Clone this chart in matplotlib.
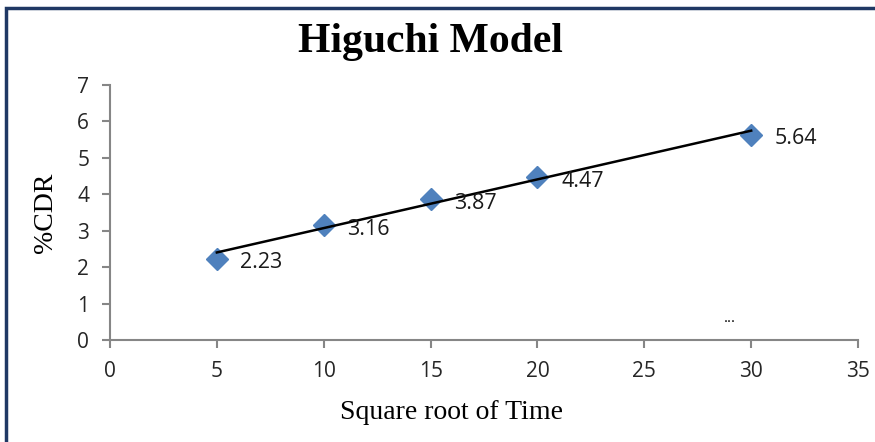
import numpy as np
import matplotlib
matplotlib.use("Agg")
import matplotlib.pyplot as plt
from matplotlib.patches import Rectangle

# Data
sqrt_time = [5, 10, 15, 20, 30]
cdr = [2.23, 3.16, 3.87, 4.47, 5.64]
x_ticks = [0, 5, 10, 15, 20, 25, 30, 35]
y_ticks = [0, 1, 2, 3, 4, 5, 6, 7]

axis_grey = "#868686"
marker_blue = "#4F81BD"

fig = plt.figure(figsize=(8.75, 4.42), dpi=100)
ax = fig.add_axes([0.1257, 0.2308, 0.8549, 0.5769])

# Linear trendline
slope, intercept = np.polyfit(sqrt_time, cdr, 1)
xs = np.array([sqrt_time[0], sqrt_time[-1]])
ax.plot(xs, slope * xs + intercept, color="black", lw=1.8, zorder=3)

ax.plot(sqrt_time, cdr, linestyle="none", marker="D", markersize=11,
        color=marker_blue, zorder=2)

for x, y in zip(sqrt_time, cdr):
    ax.annotate(f"{y:.2f}", (x, y), xytext=(17, -3), textcoords="offset points",
                ha="left", va="center", fontsize=15.5, family="Open Sans",
                color="#1a1a1a", zorder=4)

ax.text(29, 0.6, "...", fontsize=11, family="Open Sans", ha="center",
        va="center", color="black")

ax.set_xlim(0, 35)
ax.set_ylim(0, 7)
ax.set_xticks(x_ticks)
ax.set_yticks(y_ticks)

for side in ["top", "right"]:
    ax.spines[side].set_visible(False)
for side in ["left", "bottom"]:
    ax.spines[side].set_color(axis_grey)
    ax.spines[side].set_linewidth(1.5)

ax.tick_params(axis="both", direction="out", length=6, width=1.5,
               color=axis_grey, labelsize=15, pad=9)
for lbl in ax.get_xticklabels() + ax.get_yticklabels():
    lbl.set_family("Open Sans")
    lbl.set_color("#262626")

fig.text(430 / 875, 0.905, "Higuchi Model", fontsize=30, fontweight="bold",
         family="Liberation Serif", ha="center", va="center")
fig.text(452 / 875, 0.066, "Square root of Time", fontsize=20,
         family="Liberation Serif", ha="center", va="center")
ax.set_ylabel("%CDR", fontsize=20, family="Liberation Serif", labelpad=14)

# Frame around the picture (only top and left visible in the crop)
fig.patches.append(Rectangle((6 / 875, -0.1), 1.2, 0.1 + (442 - 8) / 442,
                             transform=fig.transFigure, fill=False,
                             edgecolor="#1F3864", lw=2.5))

fig.savefig("out.png", dpi=100)
